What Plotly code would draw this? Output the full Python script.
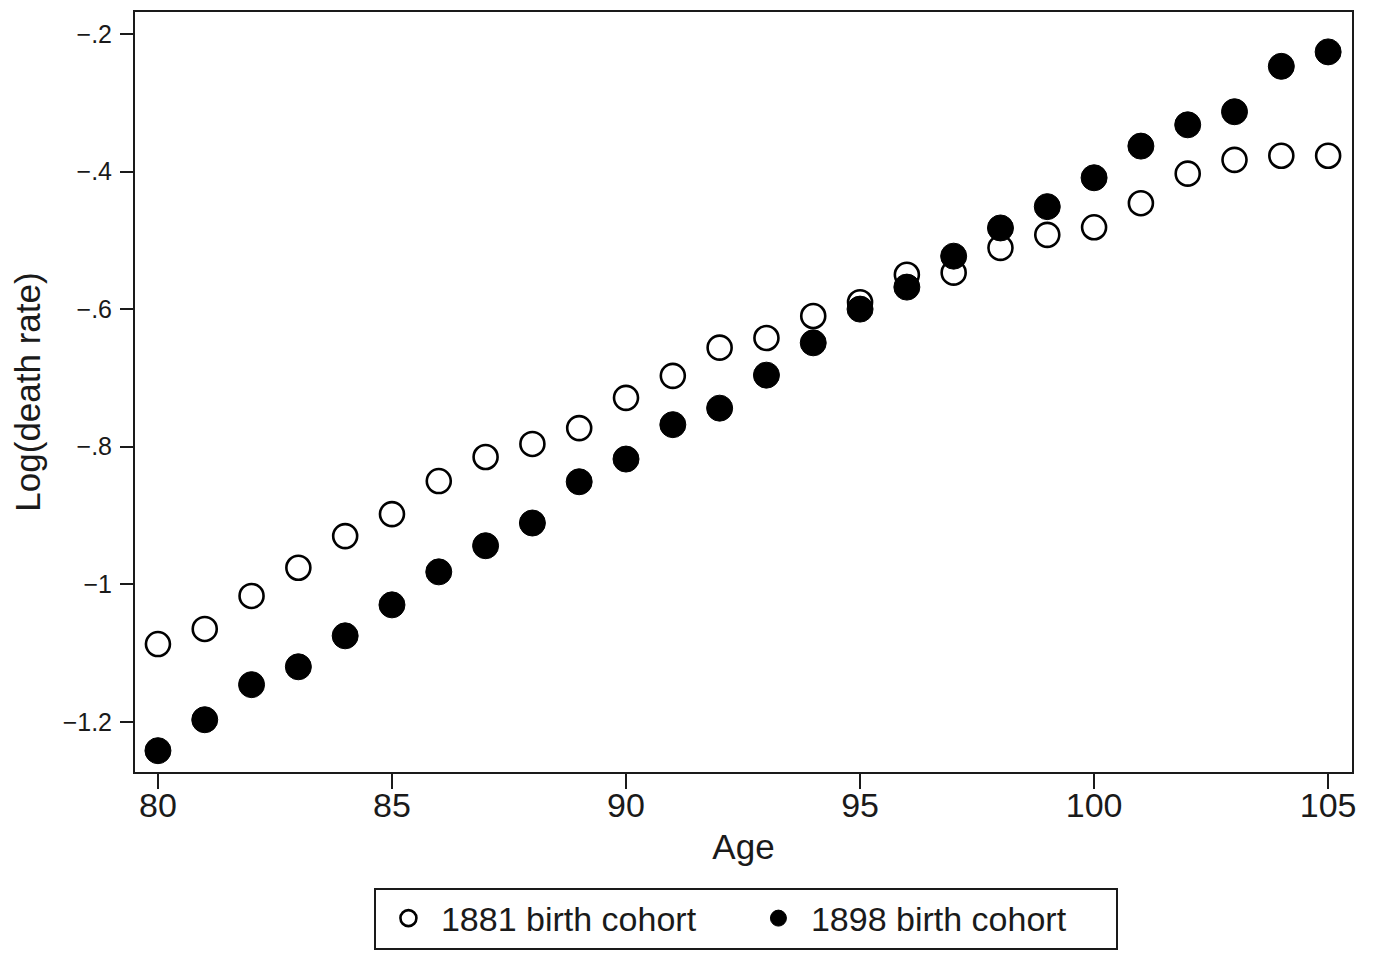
import plotly.graph_objects as go

ages = list(range(80, 106))
cohort_1881 = [-1.087, -1.065, -1.017, -0.976, -0.930, -0.898, -0.850, -0.815, -0.796, -0.773,
               -0.729, -0.697, -0.656, -0.642, -0.610, -0.590, -0.550, -0.547, -0.511, -0.492,
               -0.481, -0.446, -0.403, -0.383, -0.377, -0.377]
cohort_1898 = [-1.242, -1.197, -1.146, -1.120, -1.075, -1.030, -0.982, -0.944, -0.911, -0.851,
               -0.818, -0.768, -0.744, -0.696, -0.649, -0.600, -0.568, -0.523, -0.482, -0.451,
               -0.409, -0.363, -0.332, -0.313, -0.247, -0.226]
series_names = ["1881 birth cohort", "1898 birth cohort"]
x_ticks = [80, 85, 90, 95, 100, 105]
y_tickvals = [-0.2, -0.4, -0.6, -0.8, -1.0, -1.2]
y_ticktext = ["\u2212.2", "\u2212.4", "\u2212.6", "\u2212.8", "\u22121", "\u22121.2"]

FONT = "Liberation Sans, Arial, sans-serif"
INK = "#1a1a1a"

fig = go.Figure()
fig.add_trace(go.Scatter(
    x=ages, y=cohort_1881, mode="markers", name=series_names[0],
    marker=dict(symbol="circle", size=24, color="white", line=dict(color="black", width=2.6)),
))
fig.add_trace(go.Scatter(
    x=ages, y=cohort_1898, mode="markers", name=series_names[1],
    marker=dict(symbol="circle", size=26, color="black", line=dict(color="black", width=1)),
))

# page body has an 8px margin, so the figure is offset by 8px
fig.update_layout(
    width=1378, height=956,
    margin=dict(l=127, r=34, t=2, b=192),
    paper_bgcolor="white", plot_bgcolor="white",
    font=dict(family=FONT, color=INK),
    showlegend=True,
    legend=dict(
        orientation="h", x=0.502, xanchor="center", y=-0.152, yanchor="top",
        bordercolor=INK, borderwidth=2, bgcolor="white",
        font=dict(family=FONT, size=34, color=INK),
        itemwidth=55, entrywidth=300, entrywidthmode="pixels",
        traceorder="normal",
    ),
)
fig.update_xaxes(
    range=[79.51, 105.51], tickmode="array", tickvals=x_ticks,
    ticks="outside", ticklen=15, tickwidth=2, tickcolor=INK,
    tickfont=dict(size=34, family=FONT, color=INK), ticklabelstandoff=-13,
    showline=True, linecolor=INK, linewidth=2, mirror=True,
    showgrid=False, zeroline=False,
    title=dict(text="Age", font=dict(size=35, family=FONT, color=INK), standoff=12),
)
fig.update_yaxes(
    range=[-1.273, -0.168], tickmode="array", tickvals=y_tickvals, ticktext=y_ticktext,
    ticks="outside", ticklen=13, tickwidth=2, tickcolor=INK,
    tickfont=dict(size=25, family=FONT, color=INK), ticklabelstandoff=3,
    showline=True, linecolor=INK, linewidth=2, mirror=True,
    showgrid=False, zeroline=False,
    title=dict(text="Log(death rate)", font=dict(size=35, family=FONT, color=INK), standoff=18),
)

fig.write_html("out.html")
